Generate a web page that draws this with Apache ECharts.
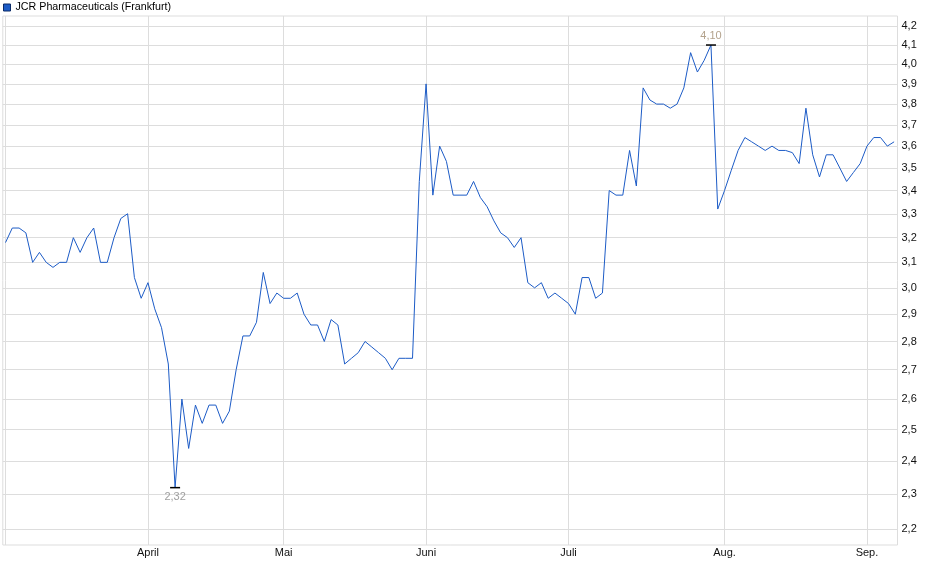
<!DOCTYPE html>
<html style="height: 100%">
<head>
    <meta charset="UTF-8">
    <title>JCR Pharmaceuticals (Frankfurt)</title>
</head>
<body style="height: 100%; margin: 0">
<div id="container" style="width: 940px; height: 579px"></div>

<script type="text/javascript" src="https://cdn.jsdelivr.net/npm/echarts@6/dist/echarts.min.js"></script>
<script type="text/javascript">
    // Schlusskurse, ein Wert pro Handelstag
    var prices = [
        3.18, 3.24, 3.24, 3.22, 3.10, 3.14, 3.10, 3.08, 3.10, 3.10,
        3.20, 3.14, 3.20, 3.24, 3.10, 3.10, 3.20, 3.28, 3.30, 3.04,
        2.96, 3.02, 2.92, 2.85, 2.72, 2.32, 2.60, 2.44, 2.58, 2.52,
        2.58, 2.58, 2.52, 2.56, 2.70, 2.82, 2.82, 2.87, 3.06, 2.94,
        2.98, 2.96, 2.96, 2.98, 2.90, 2.86, 2.86, 2.80, 2.88, 2.86,
        2.72, 2.74, 2.76, 2.80, 2.78, 2.76, 2.74, 2.70, 2.74, 2.74,
        2.74, 3.44, 3.90, 3.38, 3.60, 3.53, 3.38, 3.38, 3.38, 3.44,
        3.37, 3.33, 3.27, 3.22, 3.20, 3.16, 3.20, 3.02, 3.00, 3.02,
        2.96, 2.98, 2.96, 2.94, 2.90, 3.04, 3.04, 2.96, 2.98, 3.40,
        3.38, 3.38, 3.58, 3.42, 3.88, 3.82, 3.80, 3.80, 3.78, 3.80,
        3.88, 4.06, 3.96, 4.02, 4.10, 3.32, 3.40, 3.49, 3.58, 3.64,
        3.62, 3.60, 3.58, 3.60, 3.58, 3.58, 3.57, 3.52, 3.78, 3.56,
        3.46, 3.56, 3.56, 3.50, 3.44, 3.48, 3.52, 3.60, 3.64, 3.64,
        3.60, 3.62
    ];
    var monthNames = ['April', 'Mai', 'Juni', 'Juli', 'Aug.', 'Sep.'];
    var monthStart = [21, 41, 62, 83, 106, 127]; // Index des ersten Handelstags
    var yTicks = [2.2, 2.3, 2.4, 2.5, 2.6, 2.7, 2.8, 2.9, 3.0, 3.1, 3.2,
                  3.3, 3.4, 3.5, 3.6, 3.7, 3.8, 3.9, 4.0, 4.1, 4.2];

    var FONT = '"Liberation Sans", Arial, sans-serif';
    var gridColor = '#dddddd';

    var dom = document.getElementById("container");
    var myChart = echarts.init(dom);

    var gridLines = yTicks.map(function (v) {
        return {yAxis: v};
    });
    [0].concat(monthStart).forEach(function (i) {
        gridLines.push({xAxis: i, label: {show: false}});
    });

    var option = {
        animation: false,
        textStyle: {fontFamily: FONT},
        legend: {
            left: 3,
            top: 2,
            padding: 0,
            icon: 'rect',
            itemWidth: 7,
            itemHeight: 7,
            itemGap: 5,
            selectedMode: false,
            textStyle: {fontSize: 10.7, color: '#000', fontFamily: FONT},
            itemStyle: {borderColor: '#0b2a66', borderWidth: 1}
        },
        grid: {
            left: 2.8,
            right: 42.5,
            top: 16,
            bottom: 34,
            show: true,
            borderColor: gridColor,
            borderWidth: 1
        },
        xAxis: {
            type: 'value',
            min: -0.4,
            max: 131.5,
            splitLine: {show: false},
            axisLine: {show: false},
            axisTick: {show: false, customValues: monthStart},
            axisLabel: {
                customValues: monthStart,
                margin: 2,
                fontSize: 11,
                color: '#111',
                fontFamily: FONT,
                formatter: function (v) {
                    var i = monthStart.indexOf(v);
                    return i >= 0 ? monthNames[i] : '';
                }
            }
        },
        yAxis: {
            type: 'log',
            logBase: 10,
            min: 2.155,
            max: 4.256,
            position: 'right',
            splitLine: {show: false},
            axisLine: {show: false},
            axisTick: {show: false},
            axisLabel: {show: false}
        },
        series: [
            {
                name: 'JCR Pharmaceuticals (Frankfurt)',
                type: 'line',
                data: prices.map(function (v, i) { return [i, v]; }),
                symbol: 'none',
                z: 3,
                lineStyle: {color: '#1c5bc6', width: 1},
                itemStyle: {color: '#1c5bc6'},
                markLine: {
                    silent: true,
                    z: 1,
                    symbol: 'none',
                    lineStyle: {color: gridColor, type: 'solid', width: 1},
                    label: {
                        position: 'end',
                        distance: 4,
                        fontSize: 11,
                        color: '#111',
                        fontFamily: FONT,
                        formatter: function (p) {
                            return p.value.toFixed(1).replace('.', ',');
                        }
                    },
                    emphasis: {disabled: true},
                    data: gridLines
                },
                markPoint: {
                    silent: true,
                    symbol: 'rect',
                    symbolSize: [10, 1.5],
                    itemStyle: {color: '#000'},
                    label: {
                        fontSize: 11,
                        distance: 3,
                        fontFamily: FONT,
                        formatter: function (p) {
                            return p.value.toFixed(2).replace('.', ',');
                        }
                    },
                    data: [
                        {type: 'max', valueDim: 'y', label: {position: 'top', color: '#b3a28c'}},
                        {type: 'min', valueDim: 'y', label: {position: 'bottom', color: '#a0a0a0'}}
                    ]
                }
            }
        ]
    };

    myChart.setOption(option);
</script>
</body>
</html>
